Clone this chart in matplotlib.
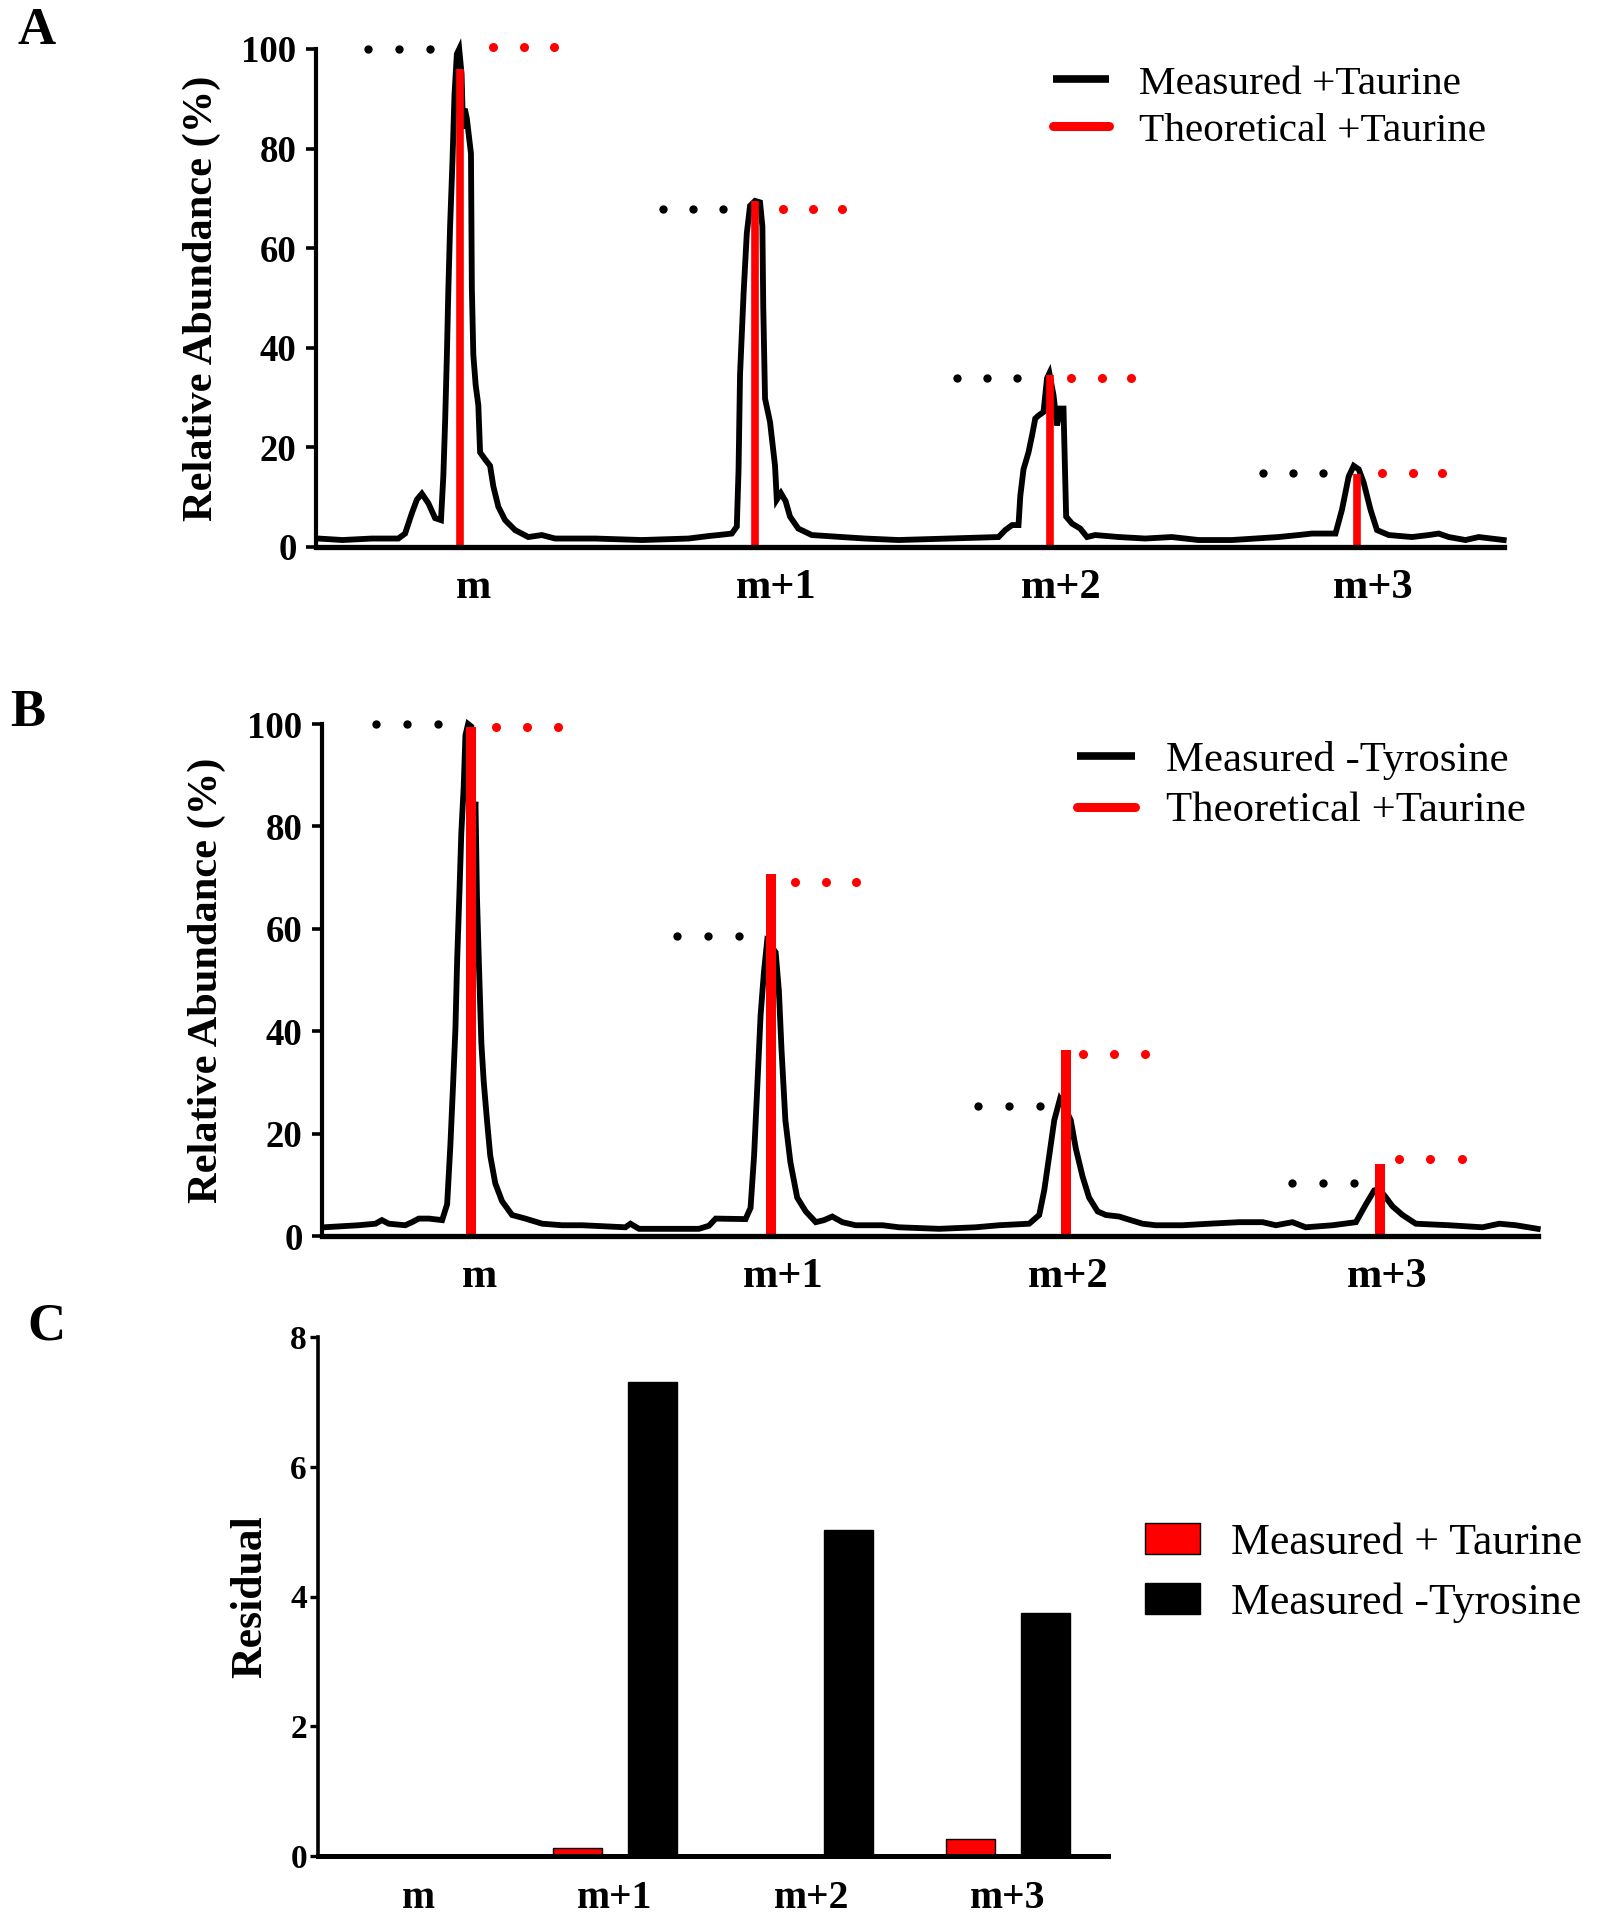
import matplotlib
matplotlib.use('Agg')
import matplotlib.pyplot as plt
from matplotlib.lines import Line2D
from matplotlib.patches import Patch

plt.rcParams['font.family'] = ['Liberation Serif', 'DejaVu Serif']

# ---------------- Panel A data ----------------
A_meas_x = [-0.482, -0.40, -0.30, -0.21, -0.187, -0.164, -0.147, -0.130, -0.108, -0.085,
            -0.065, -0.057, -0.051, -0.045, -0.040, -0.034, -0.026, -0.019, -0.011, -0.003,
            0.005, 0.010, 0.016, 0.023, 0.037, 0.040, 0.045, 0.053, 0.062, 0.068,
            0.085, 0.102, 0.113, 0.130, 0.153, 0.187, 0.232, 0.278, 0.323, 0.459,
            0.618, 0.777, 0.845, 0.879, 0.924, 0.941, 0.947, 0.952, 0.964, 0.975,
            0.986, 1.003, 1.020, 1.028, 1.031, 1.037, 1.054, 1.071, 1.077, 1.091,
            1.107, 1.122, 1.150, 1.196, 1.298, 1.377, 1.491, 1.661, 1.831, 1.854,
            1.877, 1.899, 1.905, 1.916, 1.933, 1.945, 1.956, 1.967, 1.984, 1.996,
            2.004, 2.018, 2.030, 2.041, 2.052, 2.061, 2.081, 2.109, 2.132, 2.160,
            2.240, 2.330, 2.420, 2.511, 2.625, 2.783, 2.851, 2.897, 2.977, 2.999,
            3.022, 3.039, 3.056, 3.073, 3.096, 3.118, 3.158, 3.237, 3.294, 3.328,
            3.362, 3.419, 3.464, 3.549]
A_meas_y = [1.7, 1.4, 1.7, 1.7, 2.7, 6.8, 9.5, 10.7, 8.8, 5.8,
            5.4, 14.2, 25.0, 38.3, 51.5, 64.4, 77.3, 90.8, 99.0, 100.0,
            95.0, 84.0, 88.0, 86.0, 79.0, 52.0, 38.6, 32.5, 28.5, 19.0,
            17.6, 16.3, 12.2, 8.1, 5.4, 3.4, 2.0, 2.4, 1.7, 1.7,
            1.4, 1.7, 2.2, 2.4, 2.7, 4.1, 15.6, 34.6, 50.8, 63.0,
            68.5, 69.5, 69.2, 64.4, 48.1, 29.8, 25.1, 16.3, 9.5, 10.8,
            9.2, 6.1, 3.7, 2.4, 2.0, 1.7, 1.4, 1.7, 2.0, 3.4,
            4.4, 4.4, 10.2, 15.6, 19.0, 22.4, 25.8, 26.4, 27.1, 33.9,
            34.9, 30.5, 24.4, 27.8, 27.8, 6.1, 4.7, 3.7, 2.0, 2.4,
            2.0, 1.7, 2.0, 1.4, 1.4, 2.0, 2.4, 2.7, 2.7, 7.5,
            14.2, 16.3, 15.6, 12.9, 7.5, 3.4, 2.4, 2.0, 2.4, 2.7,
            2.0, 1.4, 2.0, 1.4]
A_theo_x = [0.0, 1.003, 2.007, 3.05]
A_theo_y = [96.0, 69.5, 34.5, 14.6]
A_dot_black_x = [-0.312, -0.207, -0.102, 0.689, 0.791, 0.893,
                 1.689, 1.792, 1.893, 2.729, 2.834, 2.934]
A_dot_black_y = [99.9, 99.9, 99.9, 67.9, 67.9, 67.9, 33.9, 33.9, 33.9, 14.9, 14.9, 14.9]
A_dot_red_x = [0.113, 0.218, 0.321, 1.097, 1.199, 1.300,
               2.078, 2.182, 2.282, 3.134, 3.239, 3.339]
A_dot_red_y = [100.5, 100.5, 100.5, 67.9, 67.9, 67.9, 33.9, 33.9, 33.9, 14.9, 14.9, 14.9]
A_tick_pos = [0.045, 1.076, 2.045, 3.106]
A_legend = ['Measured +Taurine', 'Theoretical +Taurine']

# ---------------- Panel B data ----------------
B_meas_x = [-0.499, -0.381, -0.324, -0.302, -0.279, -0.223, -0.200, -0.177, -0.143, -0.098,
            -0.081, -0.070, -0.061, -0.053, -0.047, -0.039, -0.033, -0.025, -0.019, -0.010,
            0.001, 0.004, 0.015, 0.020, 0.028, 0.035, 0.043, 0.054, 0.065, 0.082,
            0.105, 0.139, 0.184, 0.241, 0.309, 0.376, 0.523, 0.540, 0.569, 0.693,
            0.772, 0.806, 0.829, 0.930, 0.947, 0.959, 0.970, 0.981, 0.992, 1.003,
            1.015, 1.032, 1.043, 1.052, 1.065, 1.082, 1.105, 1.134, 1.168, 1.196,
            1.224, 1.258, 1.303, 1.394, 1.450, 1.586, 1.710, 1.789, 1.891, 1.925,
            1.942, 1.959, 1.976, 1.995, 2.010, 2.032, 2.049, 2.072, 2.094, 2.123,
            2.151, 2.196, 2.218, 2.275, 2.320, 2.410, 2.501, 2.603, 2.682, 2.727,
            2.783, 2.828, 2.919, 2.998, 3.032, 3.060, 3.077, 3.100, 3.122, 3.156,
            3.201, 3.314, 3.427, 3.484, 3.540, 3.614]
B_meas_y = [1.7, 2.1, 2.4, 3.1, 2.4, 2.1, 2.7, 3.4, 3.4, 3.1,
            6.2, 17.8, 29.4, 40.4, 54.0, 67.7, 78.7, 87.6, 97.8, 100.0,
            99.5, 82.1, 84.8, 66.3, 50.6, 37.6, 30.1, 22.6, 15.7, 10.3,
            6.8, 4.1, 3.4, 2.4, 2.1, 2.1, 1.7, 2.4, 1.4, 1.4,
            1.4, 2.0, 3.4, 3.3, 5.5, 15.7, 29.4, 43.1, 51.3, 57.5,
            56.8, 55.4, 47.9, 36.3, 22.6, 14.4, 7.5, 4.8, 2.7, 3.1,
            3.8, 2.7, 2.1, 2.1, 1.7, 1.4, 1.7, 2.1, 2.4, 4.1,
            8.9, 15.7, 22.6, 26.7, 25.3, 22.6, 17.1, 11.6, 7.5, 4.8,
            4.1, 3.8, 3.4, 2.4, 2.1, 2.1, 2.4, 2.7, 2.7, 2.1,
            2.7, 1.7, 2.1, 2.7, 6.2, 8.9, 9.2, 7.5, 5.8, 4.1,
            2.4, 2.1, 1.7, 2.4, 2.1, 1.4]
B_theo_x = [0.0, 1.015, 2.015, 3.080]
B_theo_y = [99.5, 70.8, 36.3, 14.0]
B_dot_black_x = [-0.321, -0.217, -0.113, 0.698, 0.803, 0.907,
                 1.719, 1.823, 1.927, 2.783, 2.887, 2.992]
B_dot_black_y = [100.0, 100.0, 100.0, 58.5, 58.5, 58.5, 25.4, 25.4, 25.4, 10.4, 10.4, 10.4]
B_dot_red_x = [0.085, 0.190, 0.293, 1.097, 1.201, 1.305,
               2.074, 2.178, 2.283, 3.145, 3.249, 3.356]
B_dot_red_y = [99.5, 99.5, 99.5, 69.1, 69.1, 69.1, 35.6, 35.6, 35.6, 15.0, 15.0, 15.0]
B_tick_pos = [0.030, 1.057, 2.023, 3.104]
B_legend = ['Measured -Tyrosine', 'Theoretical +Taurine']

# ---------------- Panel C data ----------------
C_categories = ['m', 'm+1', 'm+2', 'm+3']
C_taurine = [0.0, 0.12, 0.0, 0.26]
C_tyrosine = [0.0, 7.30, 5.02, 3.74]
C_legend = ['Measured + Taurine', 'Measured -Tyrosine']
C_yticks = [0, 2, 4, 6, 8]

tick_labels = ['m', 'm+1', 'm+2', 'm+3']
A_yticks = [0, 20, 40, 60, 80, 100]

W, H = 1597, 1920
fig = plt.figure(figsize=(W / 100, H / 100), dpi=100)


def frac(left, top, right, bottom):
    return [left / W, 1 - bottom / H, (right - left) / W, (bottom - top) / H]


def spectrum(rect, xlim, mx, my, tx, ty, bx, by, rx, ry, tpos, leg, red_lw,
             leg_anchor, leg_fs, ylab_x, leg_space):
    ax = fig.add_axes(rect)
    ax.plot(mx, my, color='black', lw=4.2, solid_joinstyle='miter', clip_on=False, zorder=3)
    ax.vlines(tx, 0, ty, colors='red', lw=red_lw, zorder=4)
    ax.plot(bx, by, 'o', color='black', ms=6, mew=0, clip_on=False, zorder=5)
    ax.plot(rx, ry, 'o', color='red', ms=6.5, mew=0, clip_on=False, zorder=5)
    ax.set_xlim(*xlim)
    ax.set_ylim(0, 100)
    for s in ['top', 'right']:
        ax.spines[s].set_visible(False)
    ax.spines['left'].set_linewidth(3.0)
    ax.spines['bottom'].set_linewidth(3.8)
    ax.spines['bottom'].set_zorder(6)
    ax.set_yticks(A_yticks)
    ax.set_yticklabels([str(v) for v in A_yticks], fontsize=26.5, fontweight='bold')
    ax.tick_params(axis='y', length=7, width=2.6, pad=7)
    ax.set_xticks(tpos)
    ax.set_xticklabels(tick_labels, fontsize=30.5, fontweight='bold')
    ax.tick_params(axis='x', length=0, pad=16)
    ax.set_ylabel('Relative Abundance (%)', fontsize=30.5, fontweight='bold')
    ax.yaxis.set_label_coords(ylab_x, 0.5)
    handles = [Line2D([], [], color='black', lw=5.5, solid_capstyle='butt'),
               Line2D([], [], color='red', lw=6.5, solid_capstyle='round')]
    ax.legend(handles, leg, loc='upper left', bbox_to_anchor=leg_anchor,
              bbox_transform=fig.transFigure, frameon=False, fontsize=leg_fs,
              handlelength=1.36, handletextpad=0.72, labelspacing=leg_space,
              borderpad=0, borderaxespad=0)
    return ax


axA = spectrum(frac(316, 49, 1504, 547), (-0.49, 3.55), A_meas_x, A_meas_y,
               A_theo_x, A_theo_y, A_dot_black_x, A_dot_black_y, A_dot_red_x, A_dot_red_y,
               A_tick_pos, A_legend, 5.5, (1053 / W, 1 - 65 / H), 29.7, -0.080, 0.22)
axB = spectrum(frac(322, 724, 1538, 1236), (-0.505, 3.615), B_meas_x, B_meas_y,
               B_theo_x, B_theo_y, B_dot_black_x, B_dot_black_y, B_dot_red_x, B_dot_red_y,
               B_tick_pos, B_legend, 7.2, (1077 / W, 1 - 741 / H), 30.8, -0.079, 0.27)

# ---------------- Panel C ----------------
axC = fig.add_axes(frac(318, 1337, 1108, 1856))
xs = list(range(len(C_categories)))
bw = 0.25
axC.bar([x - 0.19 for x in xs], C_taurine, width=bw, color='red', edgecolor='black',
        linewidth=1.0, zorder=3)
axC.bar([x + 0.19 for x in xs], C_tyrosine, width=bw, color='black', edgecolor='black',
        linewidth=1.0, zorder=3)
axC.set_xlim(-0.51, 3.51)
axC.set_ylim(0, 8)
for s in ['top', 'right']:
    axC.spines[s].set_visible(False)
axC.spines['left'].set_linewidth(2.6)
axC.spines['bottom'].set_linewidth(3.6)
axC.spines['bottom'].set_zorder(6)
axC.set_yticks(C_yticks)
axC.set_yticklabels([str(v) for v in C_yticks], fontsize=24, fontweight='bold')
axC.tick_params(axis='y', length=6, width=2.4, pad=2)
axC.set_xticks(xs)
axC.set_xticklabels(C_categories, fontsize=28.5, fontweight='bold')
axC.tick_params(axis='x', length=0, pad=17)
axC.set_ylabel('Residual', fontsize=31.5, fontweight='bold')
axC.yaxis.set_label_coords(-0.061, 0.5)
axC.legend([Patch(facecolor='red', edgecolor='black', linewidth=1.0),
            Patch(facecolor='black', edgecolor='black')], C_legend,
           loc='upper left', bbox_to_anchor=(1145 / W, 1 - 1523 / H),
           bbox_transform=fig.transFigure, frameon=False, fontsize=31.5,
           handlelength=1.25, handleheight=0.72, handletextpad=0.72,
           labelspacing=0.44, borderpad=0, borderaxespad=0)

# panel letters
fig.text(37 / W, 1 - 31 / H, 'A', ha='center', va='center', fontsize=38, fontweight='bold')
fig.text(28 / W, 1 - 713 / H, 'B', ha='center', va='center', fontsize=38, fontweight='bold')
fig.text(46 / W, 1 - 1327 / H, 'C', ha='center', va='center', fontsize=38, fontweight='bold')

fig.savefig('out.png', dpi=100)
